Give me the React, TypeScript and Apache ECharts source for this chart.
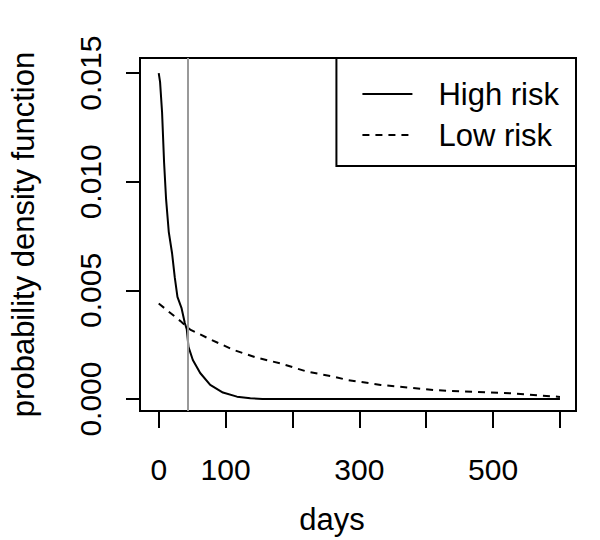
import React, { useEffect, useRef } from "react";
import * as echarts from "echarts";

const FONT = '"Liberation Sans", Arial, Helvetica, sans-serif';

// High risk density (days, pdf)
const highRiskDays = [0, 2, 5, 8, 11, 15, 20, 24, 28, 34, 39, 42, 44.5, 51, 62, 77, 96, 117, 137, 155, 600];
const highRiskPdf = [0.015, 0.0146, 0.0132, 0.0109, 0.0092, 0.0077, 0.0067, 0.0056, 0.0047, 0.0042, 0.0035, 0.0032, 0.0024, 0.0018, 0.0012, 0.00065, 0.0003, 0.00011, 0.00004, 0, 0];

// Low risk density (days, pdf)
const lowRiskDays = [0, 16, 32, 47, 77, 112, 147, 182, 222, 262, 282, 332, 412, 528, 600];
const lowRiskPdf = [0.0044, 0.004, 0.0036, 0.0032, 0.00275, 0.00226, 0.0019, 0.00164, 0.00126, 0.00103, 0.00088, 0.00065, 0.00041, 0.00026, 0.0001];

const xTicks = [0, 100, 200, 300, 400, 500, 600];
const xLabels = [0, 100, 300, 500];
const yTicks = [0, 0.005, 0.01, 0.015];
const cutoffDay = 43;

const seriesNames = ["High risk", "Low risk"];

export default function App() {
  const ref = useRef<HTMLDivElement>(null);

  useEffect(() => {
    document.body.style.margin = "0";
    if (!ref.current) return;
    const chart = echarts.init(ref.current, null, { renderer: "svg" });
    const high = highRiskDays.map((d, i) => [d, highRiskPdf[i]]);
    const low = lowRiskDays.map((d, i) => [d, lowRiskPdf[i]]);
    chart.setOption({
      animation: false,
      backgroundColor: "#fff",
      textStyle: { fontFamily: FONT, color: "#000" },
      grid: {
        left: 139,
        right: 24,
        top: 58,
        bottom: 129,
        show: true,
        borderColor: "#000",
        borderWidth: 2,
        backgroundColor: "transparent",
      },
      xAxis: {
        type: "value",
        min: -28,
        max: 624,
        name: "days",
        nameLocation: "middle",
        nameGap: 93,
        nameTextStyle: { fontSize: 31, color: "#000", fontFamily: FONT, padding: [0, 52, 0, 0] },
        axisLine: { show: false, onZero: false },
        axisTick: { show: true, length: 17, lineStyle: { color: "#000", width: 2 }, customValues: xTicks },
        axisLabel: { customValues: xLabels, fontSize: 30, color: "#000", fontFamily: FONT, margin: 43 },
        splitLine: { show: false },
      },
      yAxis: {
        type: "value",
        min: -0.00055,
        max: 0.0157,
        name: "probability density function",
        nameLocation: "middle",
        nameGap: 101,
        nameTextStyle: { fontSize: 31, color: "#000", fontFamily: FONT },
        axisLine: { show: false, onZero: false },
        axisTick: { show: true, length: 14, lineStyle: { color: "#000", width: 2 }, customValues: yTicks },
        axisLabel: {
          customValues: yTicks,
          rotate: 90,
          fontSize: 30,
          color: "#000",
          fontFamily: FONT,
          margin: 35,
          formatter: (v: number) => v.toFixed(3),
        },
        splitLine: { show: false },
      },
      legend: {
        orient: "vertical",
        right: 24,
        top: 58,
        data: seriesNames,
        itemWidth: 50,
        itemHeight: 14,
        itemGap: 7,
        padding: [19, 17, 14, 25],
        borderColor: "#000",
        borderWidth: 2,
        backgroundColor: "#fff",
        itemStyle: { opacity: 0 },
        textStyle: { fontSize: 31, color: "#000", fontFamily: FONT, lineHeight: 34, padding: [0, 0, 0, 21] },
      },
      series: [
        {
          name: seriesNames[0],
          type: "line",
          data: high,
          symbol: "none",
          color: "#000",
          lineStyle: { color: "#000", width: 2 },
          markLine: {
            silent: true,
            symbol: ["none", "none"],
            label: { show: false },
            lineStyle: { color: "#999", width: 2, type: "solid" },
            data: [{ xAxis: cutoffDay }],
          },
          z: 3,
        },
        {
          name: seriesNames[1],
          type: "line",
          data: low,
          symbol: "none",
          color: "#000",
          lineStyle: { color: "#000", width: 2, type: [7, 6] },
          z: 3,
        },
      ],
    });
    return () => chart.dispose();
  }, []);

  return <div ref={ref} style={{ width: 600, height: 540 }} />;
}
